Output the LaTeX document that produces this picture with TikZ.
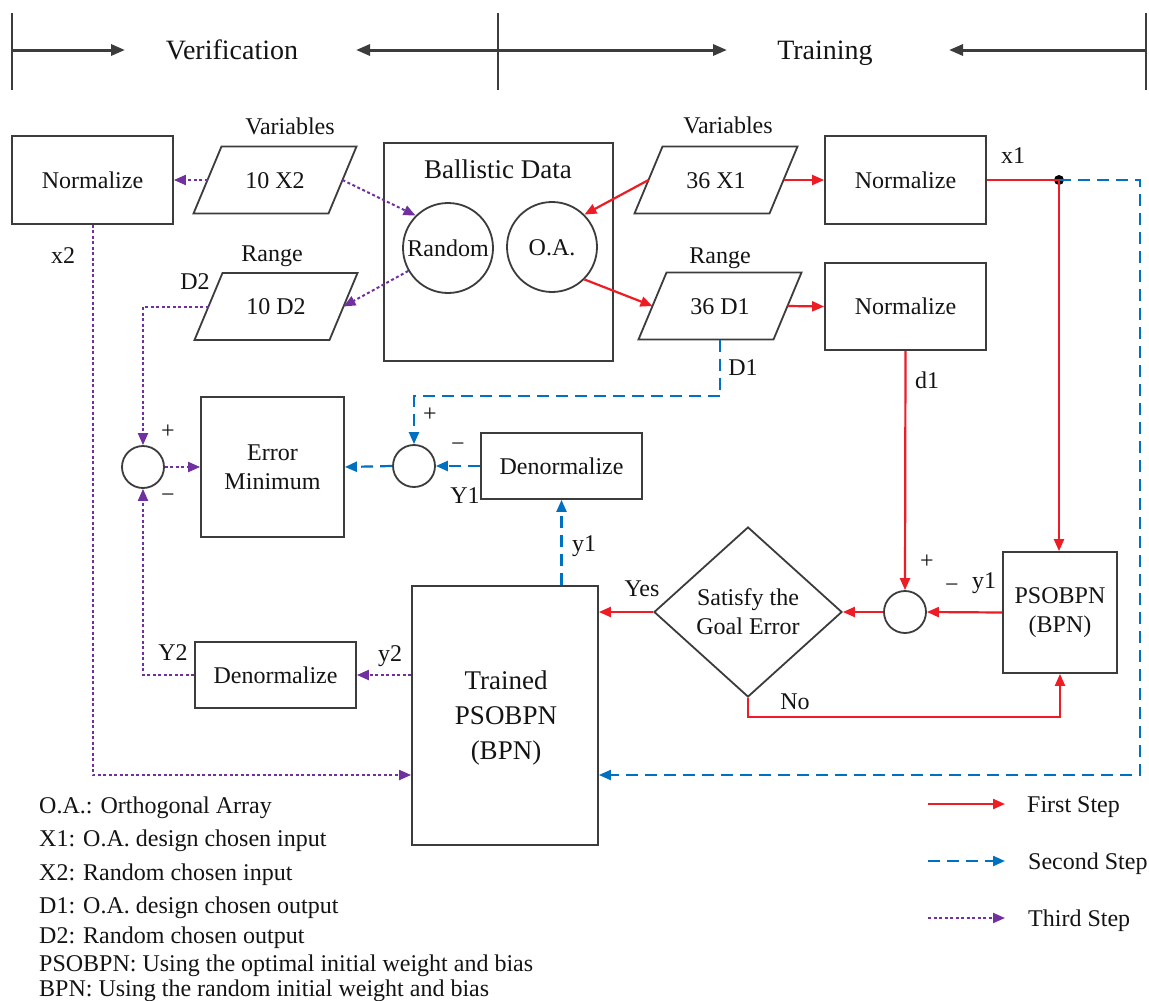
\documentclass[tikz,border=0pt]{standalone}
\usepackage{fontspec}
\setmainfont{Liberation Serif}
\usetikzlibrary{arrows.meta,calc,shapes.geometric}
\definecolor{redc}{RGB}{238,28,36}
\definecolor{bluec}{RGB}{0,112,192}
\definecolor{purc}{RGB}{112,48,160}
\definecolor{boxc}{RGB}{60,60,60}
\definecolor{txtc}{RGB}{20,20,20}
\tikzset{
 txt/.style={font=\fontsize{24}{29}\selectfont, text=txtc, inner sep=0pt, align=center},
 lbl/.style={txt, text height=16pt, text depth=0pt},
 boxn/.style={draw=boxc, line width=1.8pt, inner sep=0pt, txt},
 sumc/.style={circle, draw=boxc, line width=1.8pt, minimum size=42pt, inner sep=0pt},
 bigc/.style={circle, draw=boxc, line width=1.8pt, minimum size=90pt, inner sep=0pt, lbl},
 tipc/.style={-{Triangle[length=12pt,width=10pt]}},
 redln/.style={draw=redc, line width=2.2pt},
 blueln/.style={draw=bluec, line width=2.2pt, dash pattern=on 12pt off 7pt},
 purln/.style={draw=purc, line width=2pt, dash pattern=on 3pt off 2.5pt},
 hdrln/.style={draw=boxc, line width=3pt, -{Triangle[length=14pt,width=11pt]}},
 hdrbar/.style={draw=boxc, line width=1.5pt},
 hdrt/.style={lbl, font=\fontsize{28}{32}\selectfont, text height=18.5pt},
 legt/.style={lbl, anchor=west},
}
\newcommand{\pgram}[3]{%
 \node[lbl] (#1) at (#2) {#3};
 \draw[draw=boxc, line width=1.8pt, line join=miter]
   ($(#1.center)+(-81.5,33.5)$) -- ($(#1.center)+(53.5,33.5)$) --
   ($(#1.center)+(81.5,-33.5)$) -- ($(#1.center)+(-53.5,-33.5)$) -- cycle;
 \coordinate (#1-e) at ($(#1.center)+(67.5,0)$);
 \coordinate (#1-w) at ($(#1.center)+(-67.5,0)$);
 \coordinate (#1-s) at ($(#1.center)+(0,33.5)$);
}
\begin{document}
\begin{tikzpicture}[x=1pt,y=-1pt]
\useasboundingbox (0,0) rectangle (1149,1001);
\fill[white] (0,0) rectangle (1149,1001);

% header
\draw[hdrbar] (12,13) -- (12,90);
\draw[hdrbar] (498,13) -- (498,90);
\draw[hdrbar] (1146,13) -- (1146,90);
\draw[hdrln] (12,50) -- (125,50);
\draw[hdrln] (498,50) -- (356,50);
\draw[hdrln] (498,50) -- (727,50);
\draw[hdrln] (1146,50) -- (949,50);
\node[hdrt] (hver) at (232,50) {Verification};
\node[hdrt] (htr) at (825,50) {Training};

% boxes
\node[boxn, lbl, minimum width=161pt, minimum height=88pt] (nl) at (92.5,180) {Normalize};
\node[boxn, lbl, minimum width=161pt, minimum height=88pt] (n1) at (905.5,180) {Normalize};
\node[boxn, lbl, minimum width=161pt, minimum height=87pt] (n2) at (905.5,306.5) {Normalize};
\node[boxn, minimum width=229pt, minimum height=218pt] (bd) at (498.5,252) {};
\node[lbl, font=\fontsize{27}{32}\selectfont, text height=18pt] (bdt) at (498,169) {Ballistic Data};
\node[bigc] (rnd) at (448,248) {Random};
\node[bigc] (oa) at (552,247) {O.A.};
\pgram{p10x2}{275,180}{10 X2}
\pgram{p10d2}{276,306.5}{10 D2}
\pgram{p36x1}{716,180}{36 X1}
\pgram{p36d1}{720,306}{36 D1}
\node[boxn, minimum width=143pt, minimum height=140pt] (em) at (272.5,467) {Error\\Minimum};
\node[boxn, lbl, minimum width=161pt, minimum height=66pt] (dn1) at (561.5,466) {Denormalize};
\node[boxn, lbl, minimum width=161pt, minimum height=66pt] (dn2) at (275.5,675) {Denormalize};
\node[boxn, minimum width=186pt, minimum height=259pt] (tr) at (505,715.5) {};
\node[txt, font=\fontsize{27}{35}\selectfont] (trt) at (506,718) {Trained\\PSOBPN\\(BPN)};
\node[boxn, minimum width=114pt, minimum height=121pt] (pso) at (1060,612.5) {PSOBPN\\(BPN)};
\node[diamond, draw=boxc, line width=1.8pt, inner sep=0pt, aspect=1.1, minimum width=188pt, minimum height=170pt, txt] (dia) at (748,612) {Satisfy the\\Goal Error};
\node[sumc] (lsum) at (143,467) {};
\node[sumc] (bsum) at (414,466) {};
\node[sumc] (rsum) at (905,612) {};
\fill[black] (1059,180) circle (5pt);
\coordinate (dot) at (1059,180);
\coordinate (br1) at (1140,180);
\coordinate (br2) at (1140,775);
\coordinate (pl) at (92.5,775);
\coordinate (d1c) at (720,396);

% labels
\node[lbl] (lv1) at (290,126) {Variables};
\node[lbl] (lv2) at (728,125) {Variables};
\node[lbl] (lr1) at (272,253) {Range};
\node[lbl] (lr2) at (720,255) {Range};
\node[lbl] (lx2) at (63,255) {x2};
\node[lbl] (ld2) at (195,281) {D2};
\node[lbl] (lx1) at (1013,155) {x1};
\node[lbl] (ld1) at (743,367) {D1};
\node[lbl] (ldd1) at (927,380) {d1};
\node[txt] (lp1) at (168,432) {+};
\node[txt] (lm1) at (168,498) {−};
\node[txt] (lp2) at (430,415) {+};
\node[txt] (lm2) at (458,447) {−};
\node[lbl] (lY1) at (465,495) {Y1};
\node[lbl] (ly1) at (584,543) {y1};
\node[lbl] (lyes) at (642,588) {Yes};
\node[txt] (lp3) at (927,562) {+};
\node[txt] (lm3) at (952,588) {−};
\node[lbl] (ly1b) at (984,580) {y1};
\node[lbl] (lno) at (795,701) {No};
\node[lbl] (lY2) at (173,652) {Y2};
\node[lbl] (ly2) at (390,653) {y2};

% red connectors
\draw[redln, tipc] (p36x1-w) -- (oa.45);
\draw[redln, tipc] (oa.-45) -- (p36d1-w);
\draw[redln, tipc] (p36x1-e) -- (n1.west);
\draw[redln, tipc] (p36d1-e) -- (n2.west);
\draw[redln] (n1.east) -- (dot);
\draw[redln, tipc] (dot) -- (dot |- pso.north);
\draw[redln, tipc] (n2.south) -- (rsum.north);
\draw[redln, tipc] (pso.west) -- (rsum.east);
\draw[redln, tipc] (rsum.west) -- (dia.east);
\draw[redln, tipc] (dia.west) -- (dia.west -| tr.east);
\draw[redln, tipc] (dia.south) -- ++(0,19) -| (pso.south);

% blue connectors
\draw[blueln, tipc] (dot) -- (br1) -- (br2) -- (br2 -| tr.east);
\draw[blueln, tipc] (p36d1-s) -- (d1c) -| (bsum.north);
\draw[blueln, tipc] (bsum.west) -- (em.east);
\draw[blueln, tipc] (dn1.west) -- (bsum.east);
\draw[blueln, tipc] (tr.north -| dn1.south) -- (dn1.south);

% purple connectors
\draw[purln, tipc] (p10x2-w) -- (nl.east);
\draw[purln, tipc] (p10x2-e) -- (rnd.135);
\draw[purln, tipc] (rnd.210) -- (p10d2-e);
\draw[purln, tipc] (nl.south) -- (pl) -- (pl -| tr.west);
\draw[purln, tipc] (tr.west |- dn2.east) -- (dn2.east);
\draw[purln, tipc] (dn2.west) -| (lsum.south);
\draw[purln, tipc] (p10d2-w) -| (lsum.north);
\draw[purln, tipc] (lsum.east) -- (em.west);

% legend
\coordinate (la1) at (928,804); \coordinate (lb1) at (1005,804);
\coordinate (la2) at (928,861); \coordinate (lb2) at (1005,861);
\coordinate (la3) at (928,918); \coordinate (lb3) at (1005,918);
\draw[redln, tipc] (la1) -- (lb1);
\draw[blueln, tipc] (la2) -- (lb2);
\draw[purln, tipc] (la3) -- (lb3);
\node[legt] (lg1) at (1027,804) {First Step};
\node[legt] (lg2) at (1028,861) {Second Step};
\node[legt] (lg3) at (1028,918) {Third Step};

\node[legt] (k1) at (39,805) {O.A.: Orthogonal Array};
\node[legt] (k2) at (39,838) {X1: O.A. design chosen input};
\node[legt] (k3) at (39,872) {X2: Random chosen input};
\node[legt] (k4) at (39,905) {D1: O.A. design chosen output};
\node[legt] (k5) at (39,935) {D2: Random chosen output};
\node[legt] (k6) at (39,963) {PSOBPN: Using the optimal initial weight and bias};
\node[legt] (k7) at (39,988) {BPN: Using the random initial weight and bias};
\end{tikzpicture}
\end{document}
